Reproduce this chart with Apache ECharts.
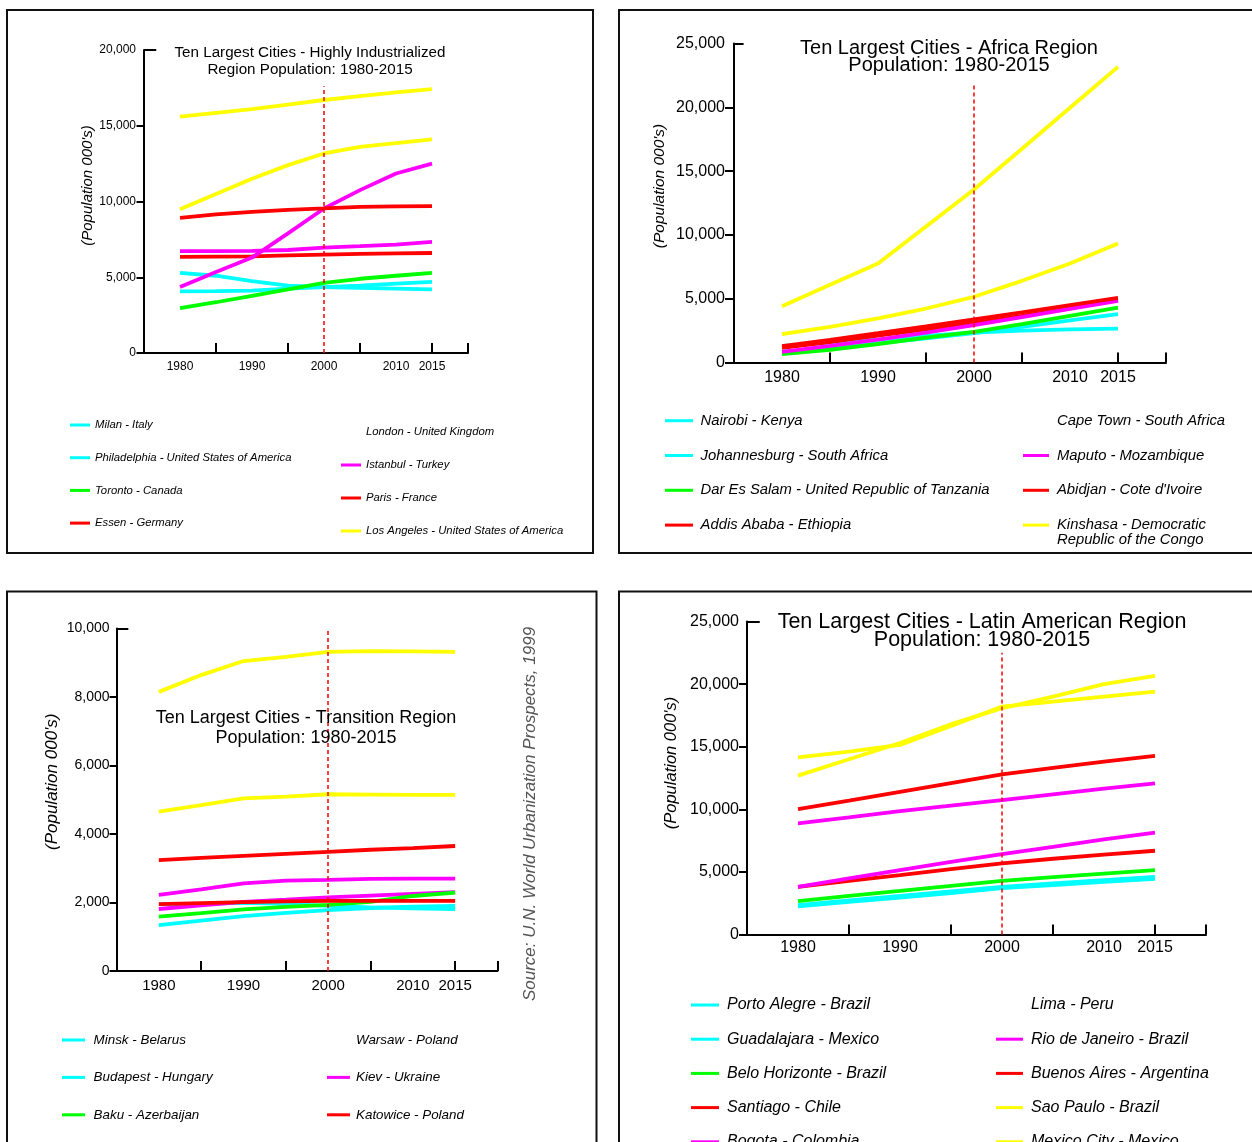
<!DOCTYPE html>
<html>
<head>
<meta charset="utf-8">
<script src="https://cdn.jsdelivr.net/npm/echarts@6/dist/echarts.min.js"></script>
<style>
html,body{margin:0;padding:0;background:#fff;overflow:hidden;}
#c{width:1252px;height:1142px;}
</style>
</head>
<body>
<div id="c"></div>
<script>
// ---------- data ----------
const years = [1980, 1985, 1990, 1995, 2000, 2005, 2010, 2015];
const xLabelYears = [1980, 1990, 2000, 2010, 2015];
const xTickYears = [1985, 1995, 2005, 2015, 2020];

// Highly industrialized region (thousands)
const londonUK = [7740, 7670, 7650, 7640, 7640, 7640, 7640, 7640];
const milanIT = [5290, 5100, 4750, 4450, 4350, 4300, 4250, 4200];
const philadelphiaUS = [4070, 4080, 4120, 4250, 4350, 4450, 4580, 4690];
const torontoCA = [2970, 3350, 3770, 4200, 4630, 4900, 5100, 5290];
const essenDE = [6340, 6360, 6380, 6440, 6500, 6540, 6580, 6600];
const chicagoUS = [6720, 6720, 6740, 6800, 6960, 7050, 7160, 7330];
const istanbulTR = [4360, 5350, 6300, 7900, 9540, 10750, 11850, 12500];
const parisFR = [8920, 9150, 9320, 9450, 9540, 9640, 9680, 9700];
const losAngelesUS = [9490, 10500, 11500, 12400, 13170, 13600, 13850, 14100];
const newYorkUS = [15600, 15850, 16100, 16400, 16700, 16950, 17200, 17420];

// Africa region
const capeTownZA = [1600, 1850, 2150, 2550, 2950, 3150, 3300, 3400];
const johannesburgZA = [1300, 1550, 1800, 2080, 2350, 2500, 2600, 2650];
const nairobiKE = [860, 1150, 1500, 1900, 2300, 2800, 3300, 3800];
const darEsSalaamTZ = [650, 1000, 1450, 1950, 2400, 3000, 3650, 4300];
const addisAbabaET = [1150, 1600, 2100, 2600, 3100, 3650, 4250, 4950];
const maputoMZ = [840, 1300, 1800, 2350, 2930, 3550, 4200, 4830];
const abidjanCI = [1280, 1780, 2300, 2830, 3370, 3920, 4500, 5070];
const kinshasaCD = [2220, 2800, 3450, 4230, 5150, 6400, 7760, 9330];
const lagosNG = [4410, 6090, 7760, 10660, 13560, 16750, 19960, 23170];

// Transition region
const warsawPL = [1600, 1650, 1660, 1680, 1700, 1720, 1730, 1740];
const budapestHU = [1950, 1960, 1990, 1960, 1900, 1860, 1830, 1810];
const minskBY = [1340, 1470, 1600, 1700, 1780, 1840, 1880, 1900];
const tashkentUZ = [1810, 1920, 2020, 2080, 2150, 2200, 2250, 2300];
const bakuAZ = [1590, 1690, 1800, 1870, 1930, 2020, 2190, 2290];
const bucharestRO = [1950, 1980, 2010, 2030, 2050, 2050, 2050, 2050];
const kievUA = [2220, 2380, 2560, 2640, 2660, 2690, 2700, 2700];
const katowicePL = [3240, 3300, 3360, 3420, 3480, 3540, 3590, 3650];
const stPetersburgRU = [4650, 4840, 5040, 5090, 5160, 5150, 5140, 5140];
const moscowRU = [8150, 8640, 9050, 9170, 9320, 9340, 9330, 9320];

// Latin American region
const limaPE = [4400, 5100, 5800, 6600, 7400, 8100, 8700, 9400];
const guadalajaraMX = [2250, 2600, 2950, 3300, 3700, 3950, 4200, 4450];
const portoAlegreBR = [2350, 2720, 3080, 3450, 3810, 4080, 4350, 4610];
const beloHorizonteBR = [2670, 3080, 3480, 3890, 4290, 4580, 4870, 5140];
const santiagoCL = [3810, 4280, 4740, 5220, 5680, 6050, 6380, 6690];
const bogotaCO = [3810, 4480, 5140, 5800, 6420, 7000, 7600, 8130];
const rioBR = [8880, 9350, 9860, 10300, 10740, 11200, 11650, 12070];
const buenosAiresAR = [10020, 10700, 11400, 12100, 12790, 13300, 13800, 14260];
const mexicoCityMX = [14150, 14600, 15140, 16660, 18200, 18600, 19000, 19400];
const saoPauloBR = [12690, 14000, 15300, 16800, 18070, 19000, 20000, 20660];

// ---------- styling / layout ----------
const FONT = "'Liberation Sans', Arial, sans-serif";
const COL = {cyan:'#00ffff', green:'#00ff00', red:'#ff0000', magenta:'#ff00ff', yellow:'#ffff00', white:'#ffffff'};
const KINSHASA = 'Kinshasa - Democratic Republic of the Congo';

const panels = [
  {
    grid:{left:144, top:50, width:324, height:303},
    yMax:20000, yInt:5000, yLabelSize:12, xLabelSize:12, yMargin:8, xMargin:8, yTick:7.5,
    name:{size:15, gap:40, shift:32},
    title:{text:'Ten Largest Cities - Highly Industrialized\nRegion Population: 1980-2015', x:310, top:44.5, size:15.2, lh:17},
    dashTop:17600, cap:1.7,
    series:[
      ['London - United Kingdom', londonUK, 'white'],
      ['Milan - Italy', milanIT, 'cyan'],
      ['Philadelphia - United States of America', philadelphiaUS, 'cyan'],
      ['Toronto - Canada', torontoCA, 'green'],
      ['Essen - Germany', essenDE, 'red'],
      ['Chicago - United States of America', chicagoUS, 'magenta'],
      ['Istanbul - Turkey', istanbulTR, 'magenta'],
      ['Paris - France', parisFR, 'red'],
      ['Los Angeles - United States of America', losAngelesUS, 'yellow'],
      ['New York - United States of America', newYorkUS, 'yellow']
    ],
    legends:[
      {left:70, top:418, iw:20, gap:18.7, fs:11.3, lh:14, pad:0,
       data:['Milan - Italy','Philadelphia - United States of America','Toronto - Canada','Essen - Germany']},
      {left:341, top:425, iw:20, gap:19, fs:11.3, lh:14, pad:0,
       data:['London - United Kingdom','Istanbul - Turkey','Paris - France','Los Angeles - United States of America']}
    ]
  },
  {
    grid:{left:734, top:43.5, width:432, height:319},
    yMax:25000, yInt:5000, yLabelSize:16, xLabelSize:16, yMargin:9, xMargin:7.5, yTick:9,
    name:{size:15.5, gap:66, shift:34},
    title:{text:'Ten Largest Cities - Africa Region\nPopulation: 1980-2015', x:949, top:39.5, size:20, lh:17},
    dashTop:21900, cap:1.0,
    series:[
      ['Cape Town - South Africa', capeTownZA, 'white'],
      ['Johannesburg - South Africa', johannesburgZA, 'cyan'],
      ['Nairobi - Kenya', nairobiKE, 'cyan'],
      ['Dar Es Salam - United Republic of Tanzania', darEsSalaamTZ, 'green'],
      ['Addis Ababa - Ethiopia', addisAbabaET, 'red'],
      ['Maputo - Mozambique', maputoMZ, 'magenta'],
      ['Abidjan - Cote d\'Ivoire', abidjanCI, 'red'],
      [KINSHASA, kinshasaCD, 'yellow'],
      ['Lagos - Nigeria', lagosNG, 'yellow']
    ],
    legends:[
      {left:665, top:412.7, iw:28, gap:18.8, fs:14.8, lh:16, pad:2.6,
       data:['Nairobi - Kenya','Johannesburg - South Africa','Dar Es Salam - United Republic of Tanzania','Addis Ababa - Ethiopia']},
      {left:1023, top:412.7, iw:26, gap:18.8, fs:14.8, lh:16, pad:3,
       data:['Cape Town - South Africa','Maputo - Mozambique','Abidjan - Cote d\'Ivoire',KINSHASA]}
    ]
  },
  {
    grid:{left:116.5, top:628.5, width:381, height:342.5},
    yMax:10000, yInt:2000, yLabelSize:14, xLabelSize:15, yMargin:7, xMargin:7.5, yTick:7,
    name:{size:17, gap:56, shift:36},
    title:{text:'Ten Largest Cities - Transition Region\nPopulation: 1980-2015', x:306, top:708, size:18, lh:20},
    dashTop:10000, cap:1.4,
    series:[
      ['Warsaw - Poland', warsawPL, 'white'],
      ['Budapest - Hungary', budapestHU, 'cyan'],
      ['Minsk - Belarus', minskBY, 'cyan'],
      ['Tashkent - Uzbekistan', tashkentUZ, 'magenta'],
      ['Baku - Azerbaijan', bakuAZ, 'green'],
      ['Bucharest - Romania', bucharestRO, 'red'],
      ['Kiev - Ukraine', kievUA, 'magenta'],
      ['Katowice - Poland', katowicePL, 'red'],
      ['St. Petersburg - Russian Federation', stPetersburgRU, 'yellow'],
      ['Moscow - Russian Federation', moscowRU, 'yellow']
    ],
    legends:[
      {left:62, top:1033, iw:23, gap:23.4, fs:13.4, lh:14, pad:3.6,
       data:['Minsk - Belarus','Budapest - Hungary','Baku - Azerbaijan']},
      {left:327, top:1033, iw:23, gap:23.4, fs:13.4, lh:14, pad:1,
       data:['Warsaw - Poland','Kiev - Ukraine','Katowice - Poland']}
    ]
  },
  {
    grid:{left:747, top:621.5, width:459, height:313},
    yMax:25000, yInt:5000, yLabelSize:16, xLabelSize:16, yMargin:8, xMargin:5.5, yTick:8,
    name:{size:16.5, gap:67, shift:30},
    title:{text:'Ten Largest Cities - Latin American Region\nPopulation: 1980-2015', x:982, top:613, size:21.5, lh:18},
    dashTop:22500, cap:1.25,
    series:[
      ['Lima - Peru', limaPE, 'white'],
      ['Guadalajara - Mexico', guadalajaraMX, 'cyan'],
      ['Porto Alegre - Brazil', portoAlegreBR, 'cyan'],
      ['Belo Horizonte - Brazil', beloHorizonteBR, 'green'],
      ['Santiago - Chile', santiagoCL, 'red'],
      ['Bogota - Colombia', bogotaCO, 'magenta'],
      ['Rio de Janeiro - Brazil', rioBR, 'magenta'],
      ['Buenos Aires - Argentina', buenosAiresAR, 'red'],
      ['Mexico City - Mexico', mexicoCityMX, 'yellow'],
      ['Sao Paulo - Brazil', saoPauloBR, 'yellow']
    ],
    legends:[
      {left:691, top:997, iw:28, gap:18.2, fs:16, lh:16, pad:3,
       data:['Porto Alegre - Brazil','Guadalajara - Mexico','Belo Horizonte - Brazil','Santiago - Chile','Bogota - Colombia']},
      {left:996, top:997, iw:27, gap:18.2, fs:16, lh:16, pad:3,
       data:['Lima - Peru','Rio de Janeiro - Brazil','Buenos Aires - Argentina','Sao Paulo - Brazil','Mexico City - Mexico']}
    ]
  }
];

const option = {
  animation:false,
  backgroundColor:'#ffffff',
  textStyle:{fontFamily:FONT},
  grid:[], xAxis:[], yAxis:[], series:[], legend:[], title:[],
  graphic:[]
};

const fmtThousands = v => Number(v).toLocaleString('en-US');

panels.forEach((p, i) => {
  const yTicks = [];
  for (let v = 0; v < p.yMax; v += p.yInt) yTicks.push(v);
  option.grid.push(Object.assign({containLabel:false}, p.grid));
  option.xAxis.push({
    type:'value', gridIndex:i, min:1975, max:2020,
    axisLine:{show:true, onZero:false, lineStyle:{color:'#000', width:2}},
    axisTick:{show:true, inside:true, length:10, customValues:xTickYears, lineStyle:{color:'#000', width:2}},
    axisLabel:{customValues:xLabelYears, formatter:v => String(v), color:'#000', fontSize:p.xLabelSize, margin:p.xMargin, fontFamily:FONT},
    splitLine:{show:false}
  });
  option.yAxis.push({
    type:'value', gridIndex:i, min:0, max:p.yMax, interval:p.yInt,
    name:"(Population 000's)", nameLocation:'middle', nameGap:p.name.gap, nameRotate:90,
    nameTextStyle:{fontSize:p.name.size, fontStyle:'italic', color:'#000', fontFamily:FONT, padding:[0,0,0,p.name.shift]},
    axisLine:{show:true, lineStyle:{color:'#000', width:2}},
    axisTick:{show:true, inside:false, length:p.yTick, customValues:yTicks, lineStyle:{color:'#000', width:2}},
    axisLabel:{formatter:fmtThousands, color:'#000', fontSize:p.yLabelSize, margin:p.yMargin, fontFamily:FONT},
    splitLine:{show:false}
  });
  option.title.push({
    text:p.title.text, left:p.title.x, top:p.title.top, textAlign:'center', padding:0,
    textStyle:{fontSize:p.title.size, lineHeight:p.title.lh, fontWeight:'normal', color:'#000', fontFamily:FONT}
  });
  p.series.forEach((s, k) => {
    const c = COL[s[2]];
    const ser = {
      type:'line', name:s[0], xAxisIndex:i, yAxisIndex:i,
      data:years.map((y, j) => [y, s[1][j]]),
      symbol:'none', showSymbol:false, color:c,
      lineStyle:{width:3.8, color:c}, itemStyle:{color:c},
      emphasis:{disabled:true}, silent:true
    };
    if (k === p.series.length - 1) {
      const dash = {color:'#ff0000', type:[4,3], width:1.5};
      const cap = {color:'#000', type:'solid', width:2};
      ser.markLine = {
        silent:true, symbol:['none','none'], animation:false, label:{show:false}, emphasis:{disabled:true},
        data:[
          [{coord:[2000, 0], lineStyle:dash}, {coord:[2000, p.dashTop], lineStyle:dash}],
          [{coord:[1975, p.yMax], lineStyle:cap}, {coord:[1975 + p.cap, p.yMax], lineStyle:cap}]
        ]
      };
    }
    option.series.push(ser);
  });
  p.legends.forEach(l => {
    option.legend.push({
      orient:'vertical', left:l.left, top:l.top, height:400, padding:0, itemGap:l.gap,
      itemWidth:l.iw, itemHeight:3, icon:'rect', selectedMode:false,
      data:l.data,
      formatter:n => n === KINSHASA ? 'Kinshasa - Democratic' : n,
      textStyle:{fontSize:l.fs, lineHeight:l.lh, fontStyle:'italic', color:'#000', fontFamily:FONT, padding:[0,0,0,l.pad]}
    });
  });
});

// second line of the wrapped Kinshasa legend entry
option.graphic.push({type:'text', silent:true, x:1057, y:540,
  style:{text:'Republic of the Congo', font:"italic 14.8px 'Liberation Sans', Arial, sans-serif",
         fill:'#000', align:'left', verticalAlign:'middle'}});

// panel frames
[[7, 10, 586, 543], [619, 10, 700, 543], [7, 591.5, 589.5, 700], [619, 591.5, 700, 700]].forEach(r => {
  option.graphic.push({type:'rect', silent:true, z:100,
    shape:{x:r[0], y:r[1], width:r[2], height:r[3]},
    style:{fill:'none', stroke:'#111', lineWidth:2}});
});
// source note
option.graphic.push({type:'text', silent:true, x:530, y:814, rotation:Math.PI/2,
  style:{text:'Source: U.N. World Urbanization Prospects, 1999', font:"italic 17px 'Liberation Sans', Arial, sans-serif",
         fill:'#555', align:'center', verticalAlign:'middle'}});

const chart = echarts.init(document.getElementById('c'));
chart.setOption(option);
</script>
</body>
</html>
